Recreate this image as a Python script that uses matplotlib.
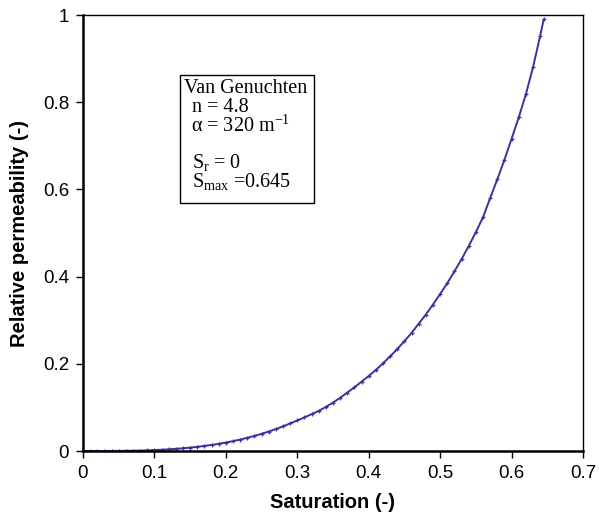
import matplotlib
matplotlib.use("Agg")
import matplotlib.pyplot as plt
from matplotlib.patches import Rectangle

plt.rcParams['font.family'] = ['Liberation Sans', 'DejaVu Sans']
plt.rcParams['mathtext.fontset'] = 'custom'
plt.rcParams['mathtext.rm'] = 'Liberation Serif'
plt.rcParams['mathtext.it'] = 'Liberation Serif:italic'

saturation = [0.00, 0.01, 0.02, 0.03, 0.04, 0.05, 0.06, 0.07, 0.08, 0.09,
              0.10, 0.11, 0.12, 0.13, 0.14, 0.15, 0.16, 0.17, 0.18, 0.19,
              0.20, 0.21, 0.22, 0.23, 0.24, 0.25, 0.26, 0.27, 0.28, 0.29,
              0.30, 0.31, 0.32, 0.33, 0.34, 0.35, 0.36, 0.37, 0.38, 0.39,
              0.40, 0.41, 0.42, 0.43, 0.44, 0.45, 0.46, 0.47, 0.48, 0.49,
              0.50, 0.51, 0.52, 0.53, 0.54, 0.55, 0.56, 0.57, 0.58, 0.59,
              0.60, 0.61, 0.62, 0.63, 0.64, 0.645]
rel_perm = [0.0, 0.0, 0.0, 0.0, 0.0001, 0.0002, 0.0004, 0.0007, 0.0010, 0.0015,
            0.0021, 0.0029, 0.0038, 0.0050, 0.0063, 0.0078, 0.0096, 0.0116, 0.0139, 0.0165,
            0.0194, 0.0226, 0.0262, 0.0302, 0.0346, 0.0394, 0.0446, 0.0503, 0.0565, 0.0632,
            0.0700, 0.0770, 0.0845, 0.0920, 0.1010, 0.1110, 0.1220, 0.1340, 0.1460, 0.1590,
            0.1720, 0.1860, 0.2010, 0.2170, 0.2340, 0.2520, 0.2710, 0.2920, 0.3130, 0.3360,
            0.3600, 0.3850, 0.4120, 0.4400, 0.4700, 0.5020, 0.5360, 0.5800, 0.6230, 0.6680,
            0.7160, 0.7650, 0.8180, 0.8800, 0.9520, 0.9900]

x_ticks = [0, 0.1, 0.2, 0.3, 0.4, 0.5, 0.6, 0.7]
x_ticklabels = ['0', '0.1', '0.2', '0.3', '0.4', '0.5', '0.6', '0.7']
y_ticks = [0, 0.2, 0.4, 0.6, 0.8, 1.0]
y_ticklabels = ['0', '0.2', '0.4', '0.6', '0.8', '1']

fig = plt.figure(figsize=(5.99, 5.17), dpi=100)
ax = fig.add_axes([83/599, 1-451/517, 500/599, 436/517])

ax.plot(saturation, rel_perm, color='#3a329e', lw=1.4, marker='+', ms=3.5, mew=0.9)

ax.set_xlim(0, 0.7)
ax.set_ylim(0, 1)
ax.set_xticks(x_ticks)
ax.set_xticklabels(x_ticklabels)
ax.set_yticks(y_ticks)
ax.set_yticklabels(y_ticklabels)
ax.tick_params(direction='out', length=5, width=1, labelsize=13.5, colors='black',
               top=False, right=False, pad=5)
ax.spines['left'].set_linewidth(1.8)
ax.spines['bottom'].set_linewidth(1.8)
ax.spines['top'].set_linewidth(1.0)
ax.spines['right'].set_linewidth(1.0)

ax.set_xlabel('Saturation (-)', fontsize=14.5, fontweight='bold', labelpad=8)
ax.set_ylabel('Relative permeability (-)', fontsize=14.5, fontweight='bold', labelpad=10)

# annotation box
bx0, bx1 = (180-83)/500, (314-83)/500
by0, by1 = (451-203)/436, (451-75)/436
ax.add_patch(Rectangle((bx0, by0), bx1-bx0, by1-by0, transform=ax.transAxes,
                       fill=False, ec='black', lw=1.0))
serif = {'family': 'Liberation Serif', 'fontsize': 14.5}
lines = [
    (184, 88, 'Van Genuchten'),
    (192, 107, 'n = 4.8'),
    (191, 126, '\u03b1 = 320 m$^{\\mathrm{-1}}$'),
    (192, 162, 'S$_{\\mathrm{r}}$ = 0'),
    (192, 181, 'S$_{\\mathrm{max}}$ =0.645'),
]
for px, py, s in lines:
    ax.text((px-83)/500, (451-py)/436, s, transform=ax.transAxes,
            ha='left', va='center', **serif)

fig.savefig('out.png', dpi=100)
